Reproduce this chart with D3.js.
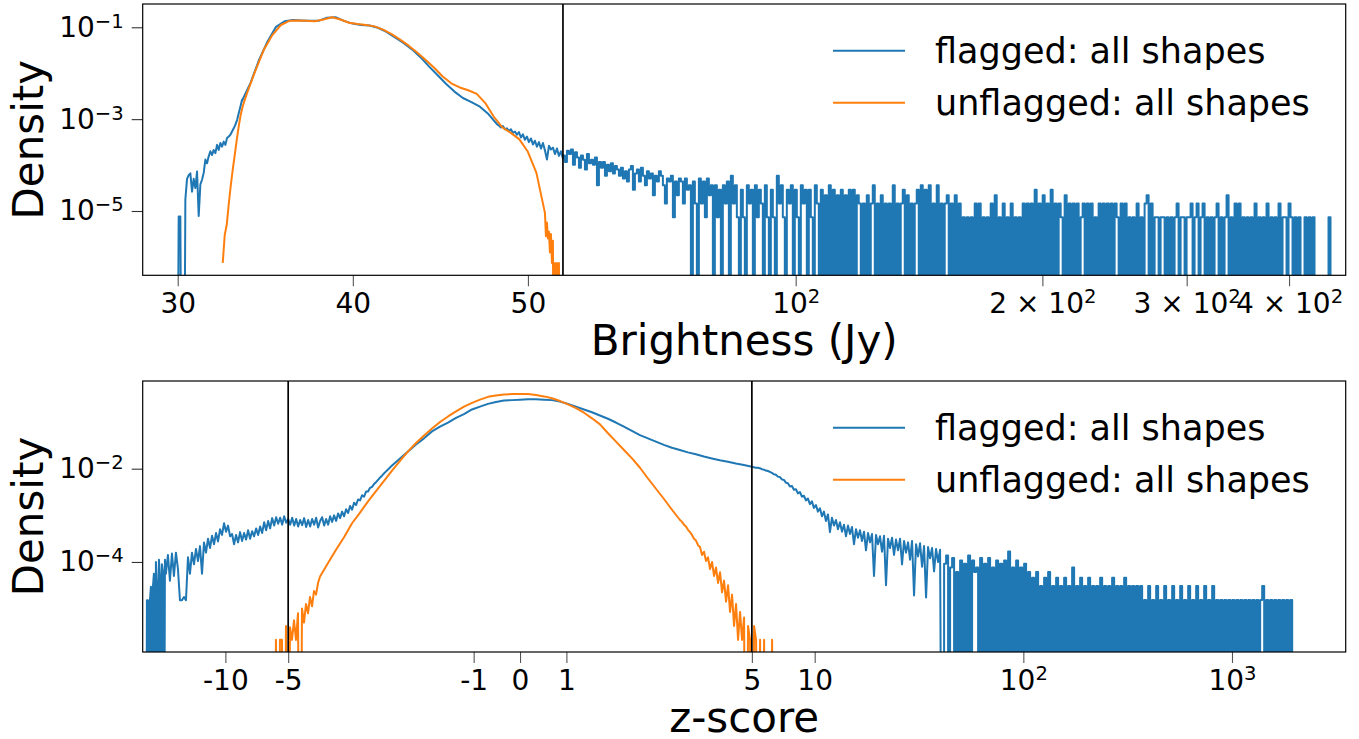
<!DOCTYPE html>
<html>
<head>
<meta charset="utf-8">
<script src="https://cdn.jsdelivr.net/npm/d3@7"></script>
<style>
body { margin: 0; background: #fff; }
svg { display: block; font-family: "DejaVu Sans", sans-serif; }
</style>
</head>
<body>
<div id="chart"></div>
<script>

// ---------- data ----------
// log10(density) samples spread evenly along the axis between from and to
// null = empty bin (line drops to the bottom)
// count segments: bin counts, multiplied by the density of a single count

var brightTicks = [30, 40, 50, 100, 200, 300, 400];
var brightTickText = [["30"], ["40"], ["50"], ["10", "2"], ["2 × 10", "2"], ["3 × 10", "2"], ["4 × 10", "2"]];
var zTicks = [-10, -5, -1, 0, 1, 5, 10, 100, 1000];
var zTickText = [["-10"], ["-5"], ["-1"], ["0"], ["1"], ["5"], ["10"], ["10", "2"], ["10", "3"]];
var brightDensityTicks = [-5, -3, -1];   // log10
var zDensityTicks = [-4, -2];            // log10

var seriesNames = ["flagged: all shapes", "unflagged: all shapes"];

// --- top: brightness ---
var flaggedBrightStart = { from: 29.96, to: 33.674, logd: [
    null, -5.12, -5.12, null, null, -4.75, -4.30, -4.22, -4.18, -4.58,
    -4.30, -4.50, -4.14, -5.11, -4.42, -4.32, -4.17, -3.88, -3.96, -3.81,
    -3.70, -3.78, -3.67, -3.74, -3.56, -3.67, -3.52, -3.60, -3.49, -3.56,
    -3.41, -3.38, -3.34, -3.27, -3.20, -3.12, -3.02, -2.87, -2.73, -2.58] };

var flaggedBrightMain = { from: 33.674, to: 48.229, logd: [
    -2.60, -2.21, -1.71, -1.31, -0.99, -0.87, -0.84, -0.85, -0.86, -0.86,
    -0.79, -0.78, -0.86, -0.92, -0.95, -0.96, -1.01, -1.10, -1.22, -1.34,
    -1.48, -1.65, -1.85, -2.04, -2.23, -2.40, -2.54, -2.63, -2.73, -2.89, -3.11] };

var flaggedBrightShoulder = { from: 48.229, to: 52, logd: [
    -3.11, -3.14, -3.18, -3.15, -3.22, -3.20, -3.26, -3.22, -3.30, -3.27,
    -3.34, -3.28, -3.40, -3.33, -3.45, -3.38, -3.50, -3.42, -3.55, -3.47,
    -3.60, -3.50, -3.64, -3.52, -3.68, -3.88, -3.58, -3.66, -3.62, -3.76,
    -3.64, -3.80, -3.70, -3.86] };

var brightCountUnit = 7.3e-6;
var flaggedBrightTail = { from: 52, to: 449.4, counts: [
    22, 16, 28, 24,
    30, 14, 26, 20, 12, 22, 18, 11, 24, 15, 18, 14, 20, 5, 16,
    12, 16, 8, 14, 10, 15, 9, 13, 11, 8, 12, 7, 10, 6, 11,
    13, 4, 9, 11, 6, 12, 8, 5, 10, 7, 9, 3, 8, 6, 10,
    8, 5, 2, 7, 6, 8, 1, 6, 3, 7, 6, 2, 7, 4, 5,
    0, 6, 2, 0, 7, 2, 6, 1, 7, 3,
    5, 0, 5, 1, 4, 0, 5, 2, 6, 0,
    8, 2, 5, 1, 0, 4, 1, 0, 5, 2,
    4, 0, 5, 1, 4, 2, 0, 5, 1, 0,
    4, 1, 0, 8, 2, 5, 1, 0, 4, 2,
    5, 0, 4, 1, 0, 5, 2, 4, 0, 4,
    1, 0, 5, 2, 0, 4, 0, 3, 0, 5,
    0, 4, 0, 3, 0, 4, 0, 3, 0, 4,
    0, 4, 0, 3, 2, 0, 2, 0, 3, 0,
    2, 5, 0, 2, 0, 3, 0, 2, 0, 2,
    0, 5, 0, 2, 0, 2, 4, 0, 3, 0,
    2, 0, 2, 4, 0, 5, 0, 4, 0, 5,
    0, 2, 0, 5, 0, 2, 0, 2, 3, 0,
    2, 0, 3, 0, 2, 0, 1, 0, 1, 0,
    1, 0, 2, 0, 2, 0, 1, 0, 1, 0,
    2, 0, 3, 0, 1, 0, 2, 0, 1, 0,
    2, 0, 1, 0, 1, 0, 2, 0, 2, 0,
    2, 0, 4, 0, 2, 0, 3, 0, 2, 0,
    4, 0, 2, 0, 2, 1, 0, 3, 0, 2,
    0, 2, 0, 2, 0, 1, 2, 0, 2, 0,
    2, 0, 1, 0, 2, 0, 2, 0, 2, 0,
    2, 0, 2, 1, 0, 2, 0, 2, 0, 1,
    0, 1, 0, 2, 0, 1, 0, 2, 3, 0,
    2, 0, 1, 1, 0, 1, 1, 0, 1, 0,
    1, 0, 1, 2, 0, 1, 1, 0, 1, 1,
    2, 0, 1, 2, 0, 1, 2, 0, 1, 0,
    1, 0, 1, 2, 0, 1, 0, 1, 3, 0,
    1, 0, 2, 0, 2, 0, 1, 0, 1, 0,
    1, 0, 2, 0, 1, 0, 1, 0, 2, 0,
    1, 0, 1, 0, 2, 0, 1, 1, 0, 2,
    1, 0, 1, 0, 1, 0, 0, 1, 0, 1,
    0, 1, 0, 0, 0, 0, 0, 0, 0, 1,
    0] };

var unflaggedBrightStart = { from: 32.571, to: 33.943, logd: [
    -6.13, -5.52, -5.30, -4.85, -4.45, -4.10, -3.78, -3.45, -3.15, -2.90, -2.72, -2.58, -2.45] };

var unflaggedBrightMain = { from: 33.943, to: 50.971, logd: [
    -2.45, -1.95, -1.49, -1.17, -0.95, -0.86, -0.85, -0.86, -0.87, -0.83,
    -0.78, -0.83, -0.90, -0.93, -0.95, -0.98, -1.05, -1.15, -1.27, -1.40,
    -1.55, -1.71, -1.88, -2.07, -2.22, -2.31, -2.37, -2.45, -2.65, -2.95,
    -3.18, -3.30, -3.44, -3.71, -4.17, -5.04] };

var unflaggedBrightEnd = { from: 50.971, to: 51.829, logd: [
    -5.04, -5.55, -5.25, -5.60, -5.45, -5.90, -5.50, -6.13, -5.65, null,
    -6.13, null, -6.13, null, -6.13, null] };

// --- bottom: z-score ---
var flaggedZFarLeft = { from: -24.03, to: -19.27, logd: [
    null, -4.82, -4.82, null, -4.82, -4.53, null, -4.53, -4.25, null,
    -4.00, -4.45, null, -3.95, -4.30, null, -4.05, -4.20, null, -3.95, -4.25] };

var flaggedZLeft = { from: -19.27, to: -5.0, logd: [
    -4.25, -3.85, -4.40, -3.82, -4.30, -3.80, -4.15, -4.82, -4.82, -4.75,
    -4.82, -3.90, -4.25, -3.80, -4.05, -3.72, -3.98, -3.66, -4.25, -3.58,
    -3.80, -3.50, -3.70, -3.44, -3.62, -3.38, -3.56, -3.30, -3.42, -3.17,
    -3.35, -3.22, -3.45, -3.40, -3.62, -3.42, -3.58, -3.36, -3.55, -3.38,
    -3.52, -3.32, -3.50, -3.34, -3.45, -3.28, -3.42, -3.24, -3.38, -3.15,
    -3.32, -3.12, -3.28, -3.06, -3.22, -3.04, -3.18, -3.05, -3.20, -3.02,
    -3.16, -3.08] };

var flaggedZMidNoisy = { from: -5.0, to: -2.933, logd: [
    -3.08, -3.20, -3.05, -3.22, -3.08, -3.24, -3.10, -3.21, -3.06, -3.25,
    -3.10, -3.24, -3.08, -3.20, -3.05, -3.26, -3.12, -3.04, -3.22, -3.08,
    -3.20, -3.02, -3.14, -3.00, -3.12, -2.96, -3.06, -2.92, -3.02, -2.87,
    -2.95, -2.80, -2.88, -2.73, -2.78, -2.66, -2.68, -2.57, -2.60, -2.49,
    -2.49, -2.41, -2.39, -2.33, -2.29, -2.24, -2.19, -2.15, -2.10] };

var flaggedZMain = { from: -2.933, to: 5.0, logd: [
    -2.10, -1.93, -1.78, -1.63, -1.48, -1.35, -1.20, -1.10, -1.01, -0.91,
    -0.83, -0.73, -0.67, -0.61, -0.57, -0.54, -0.53, -0.52, -0.51, -0.51,
    -0.52, -0.53, -0.56, -0.61, -0.67, -0.73, -0.79, -0.86, -0.93, -1.01,
    -1.10, -1.19, -1.28, -1.35, -1.42, -1.49, -1.55, -1.60, -1.65, -1.69,
    -1.74, -1.78, -1.82, -1.85, -1.89, -1.92, -1.96] };

var flaggedZRight = { from: 5.0, to: 39.9, logd: [
    -1.96, -1.97, -1.98, -1.98, -1.99, -2.01, -2.02, -2.04, -2.05, -2.07,
    -2.09, -2.12, -2.13, -2.17, -2.18, -2.23, -2.24, -2.30, -2.31, -2.38,
    -2.37, -2.45, -2.44, -2.53, -2.50, -2.60, -2.58, -2.68, -2.64, -2.76,
    -2.70, -2.84, -2.78, -2.92, -2.85, -3.02, -2.92, -3.12, -2.98, -3.36,
    -3.05, -3.22, -3.10, -3.30, -3.15, -3.35, -3.20, -3.45, -3.22, -3.40,
    -3.25, -3.62, -3.30, -3.48, -3.32, -3.55, -3.35, -3.75, -3.38, -3.58,
    -3.40, -4.30, -3.42, -3.62, -3.45, -3.78, -3.44, -4.50, -3.50, -3.70,
    -3.48, -3.85, -3.52, -3.75, -3.50, -4.05, -3.55, -3.80, -3.58, -3.95,
    -3.55, -4.72, -3.62, -3.88, -3.60, -4.10, -3.66, -4.76, -3.68, -3.92,
    -3.70, -4.20, -3.72, -4.00, -3.74] };

var zCountUnit = 1.53e-5;
var flaggedZTail = { from: 40.8, to: 1943, counts: [
    0, 6, 9, 0, 5, 8, 0, 4, 0, 7,
    0, 6, 0, 9, 0, 7, 4, 5, 0, 8,
    0, 6, 0, 8, 0, 5, 0, 7, 0, 6,
    0, 7, 0, 11, 0, 5, 0, 7, 0, 5,
    0, 6, 0, 4, 0, 3, 0, 4, 0, 2,
    0, 3, 0, 4, 0, 2, 0, 3, 0, 2,
    0, 3, 0, 2, 0, 5, 0, 2, 0, 3,
    0, 2, 0, 3, 0, 2, 0, 2, 0, 3,
    0, 2, 0, 2, 0, 3, 0, 2, 0, 2,
    0, 3, 0, 2, 0, 2, 0, 2, 0, 2,
    0, 1, 0, 2, 0, 1, 0, 2, 0, 1,
    0, 2, 0, 1, 0, 2, 0, 1, 0, 2,
    0, 1, 0, 2, 0, 1, 0, 2, 0, 1,
    0, 2, 0, 1, 0, 2, 0, 1, 0, 1,
    0, 1, 0, 1, 0, 1, 0, 1, 0, 1,
    0, 1, 0, 1, 0, 1, 0, 1, 0, 1,
    2, 0, 1, 0, 1, 0, 1, 0, 1, 0,
    1, 0, 1, 0, 1, 0] };

var unflaggedZLeft = { from: -5.85, to: -4.313, logd: [
    null, -5.67, null, -5.67, -5.67, null, -5.37, null, -5.40, -5.67,
    -5.25, -5.67, -5.10, null, -5.00, -5.30, -4.90, -5.10, -4.75, -4.95,
    -4.62, -4.70, -4.45, -4.31] };

var unflaggedZMain = { from: -4.313, to: 3.450, logd: [
    -4.31, -4.02, -3.74, -3.47, -3.17, -2.94, -2.70, -2.48, -2.26, -2.04,
    -1.83, -1.63, -1.45, -1.29, -1.14, -1.00, -0.88, -0.77, -0.67, -0.59,
    -0.52, -0.46, -0.43, -0.41, -0.40, -0.40, -0.40, -0.42, -0.45, -0.49,
    -0.55, -0.62, -0.70, -0.80, -0.92, -1.05, -1.24, -1.42, -1.60, -1.78,
    -1.98, -2.21, -2.43, -2.65, -2.88, -3.10] };

var unflaggedZRight = { from: 3.450, to: 6.39, logd: [
    -3.10, -3.14, -3.20, -3.24, -3.31, -3.36, -3.42, -3.50, -3.54, -3.64,
    -3.68, -3.85, -3.78, -3.98, -3.90, -4.15, -4.00, -4.30, -4.12, -4.45,
    -4.22, -4.65, -4.40, -4.85, -4.50, -5.07, -4.70, -5.37, -4.90, -5.67,
    -5.07, -5.67, -5.19, null, -5.37, -5.67, null, -5.37, -5.67, null,
    -5.67, null, -5.67, null, null, null, -5.67, null] };

// ---------- layout ----------
var W = 1359, H = 739;
var L = 142.7, R = 1345.7;
var blue = "#1f77b4", orange = "#ff7f0e";
var FLOOR = 1e-12;

var panels = [
    { top: 4, bottom: 275.3, T: 52, xDomain: [28, 469], yDomain: [-6.40, -0.493],
      xTicks: brightTicks, xTickText: brightTickText, yTicks: brightDensityTicks,
      xLabel: "Brightness (Jy)", vlines: [52],
      series: [
          { color: blue, segs: [flaggedBrightStart, flaggedBrightMain, flaggedBrightShoulder, flaggedBrightTail], unit: brightCountUnit },
          { color: orange, segs: [unflaggedBrightStart, unflaggedBrightMain, unflaggedBrightEnd] }
      ] },
    { top: 381, bottom: 652, T: 5, xDomain: [-24.9, 3507], yDomain: [-5.93, -0.12],
      xTicks: zTicks, xTickText: zTickText, yTicks: zDensityTicks,
      xLabel: "z-score", vlines: [-5, 5],
      series: [
          { color: blue, segs: [flaggedZFarLeft, flaggedZLeft, flaggedZMidNoisy, flaggedZMain, flaggedZRight, flaggedZTail], unit: zCountUnit },
          { color: orange, segs: [unflaggedZLeft, unflaggedZMain, unflaggedZRight] }
      ] }
];

// matplotlib style symlog (base 10, linscale 1)
var LIN = 1 / (1 - 1 / 10);
function symlog(T) {
    function fwd(v) {
        var a = Math.abs(v);
        return a <= T ? v * LIN : Math.sign(v) * T * (LIN + Math.log10(a / T));
    }
    function inv(t) {
        var a = Math.abs(t);
        return a <= T * LIN ? t / LIN : Math.sign(t) * T * Math.pow(10, a / T - LIN);
    }
    return { fwd: fwd, inv: inv };
}

var svg = d3.select("#chart").append("svg")
    .attr("width", W)
    .attr("height", H);

panels.forEach(function(p, pi) {

    var sl = symlog(p.T);
    var xt = d3.scaleLinear()
        .domain([sl.fwd(p.xDomain[0]), sl.fwd(p.xDomain[1])])
        .range([L, R]);
    var y = d3.scaleLog()
        .domain([Math.pow(10, p.yDomain[0]), Math.pow(10, p.yDomain[1])])
        .range([p.bottom, p.top]);

    var clipId = "clip" + pi;
    svg.append("clipPath").attr("id", clipId)
        .append("rect")
        .attr("x", L).attr("y", p.top)
        .attr("width", R - L).attr("height", p.bottom - p.top);

    var plot = svg.append("g").attr("clip-path", "url(#" + clipId + ")");

    var line = d3.line()
        .x(function(d) { return xt(d.t); })
        .y(function(d) { return y(d.d === null ? FLOOR : d.d); });

    p.series.forEach(function(s) {
        var pts = [];
        s.segs.forEach(function(seg) {
            var vals = seg.logd || seg.counts;
            var n = vals.length;
            var t0 = sl.fwd(seg.from), t1 = sl.fwd(seg.to);
            var ts = vals.map(function(v, i) { return t0 + (t1 - t0) * i / (n - 1); });
            if (seg.logd) {
                vals.forEach(function(v, i) {
                    pts.push({ t: ts[i], d: v === null ? null : Math.pow(10, v) });
                });
            } else {
                // histogram steps
                vals.forEach(function(c, i) {
                    var d = c === 0 ? null : c * s.unit;
                    pts.push({ t: ts[i], d: d });
                    if (i < n - 1) pts.push({ t: ts[i + 1], d: d });
                });
            }
        });
        plot.append("path")
            .datum(pts)
            .attr("d", line)
            .attr("fill", "none")
            .attr("stroke", s.color)
            .attr("stroke-width", 2)
            .attr("stroke-linejoin", "round");
    });

    // threshold lines
    p.vlines.forEach(function(v) {
        plot.append("line")
            .attr("x1", xt(sl.fwd(v))).attr("x2", xt(sl.fwd(v)))
            .attr("y1", p.top).attr("y2", p.bottom)
            .attr("stroke", "#000")
            .attr("stroke-width", 1.7);
    });

    // x axis
    var gx = svg.append("g")
        .attr("transform", "translate(0," + p.bottom + ")")
        .call(d3.axisBottom(xt)
            .tickValues(p.xTicks.map(sl.fwd))
            .tickSizeInner(11).tickSizeOuter(0).tickPadding(7)
            .tickFormat(function() { return ""; }));
    gx.select(".domain").remove();
    gx.attr("font-size", 28).attr("font-family", "DejaVu Sans");
    gx.selectAll(".tick line").attr("stroke", "#555").attr("stroke-width", 1.1);
    gx.selectAll(".tick text").attr("fill", "#000").each(function(d, i) {
        var parts = p.xTickText[i];
        var t = d3.select(this);
        t.text(parts[0]);
        if (parts[1]) {
            t.append("tspan").attr("dy", -10).attr("font-size", 19.6).text(parts[1]);
        }
    });

    // y axis
    var gy = svg.append("g")
        .attr("transform", "translate(" + L + ",0)")
        .call(d3.axisLeft(y)
            .tickValues(p.yTicks.map(function(e) { return Math.pow(10, e); }))
            .tickSizeInner(11).tickSizeOuter(0).tickPadding(8)
            .tickFormat(function() { return ""; }));
    gy.select(".domain").remove();
    gy.attr("font-size", 28).attr("font-family", "DejaVu Sans");
    gy.selectAll(".tick line").attr("stroke", "#333").attr("stroke-width", 1.1);
    gy.selectAll(".tick text").attr("fill", "#000").each(function(d, i) {
        var t = d3.select(this);
        t.text("10");
        t.append("tspan").attr("dy", -9).attr("font-size", 19.6).text("\u2212" + Math.abs(p.yTicks[i]));
    });

    // frame
    svg.append("rect")
        .attr("x", L).attr("y", p.top)
        .attr("width", R - L).attr("height", p.bottom - p.top)
        .attr("fill", "none")
        .attr("stroke", "#000")
        .attr("stroke-width", 1.2);

    // axis labels
    svg.append("text")
        .attr("x", (L + R) / 2)
        .attr("y", p.bottom + 80)
        .attr("text-anchor", "middle")
        .attr("font-size", 42)
        .text(p.xLabel);

    svg.append("text")
        .attr("transform", "translate(43," + ((p.top + p.bottom) / 2) + ") rotate(-90)")
        .attr("text-anchor", "middle")
        .attr("font-size", 42)
        .text("Density");

    // legend
    p.series.forEach(function(s, i) {
        var ly = p.top + 46.7 + i * 52;
        svg.append("line")
            .attr("x1", 833).attr("x2", 905)
            .attr("y1", ly).attr("y2", ly)
            .attr("stroke", s.color)
            .attr("stroke-width", 2);
        svg.append("text")
            .attr("x", 935)
            .attr("y", ly + 12.7)
            .attr("font-size", 35)
            .text(seriesNames[i]);
    });
});

</script>
</body>
</html>
